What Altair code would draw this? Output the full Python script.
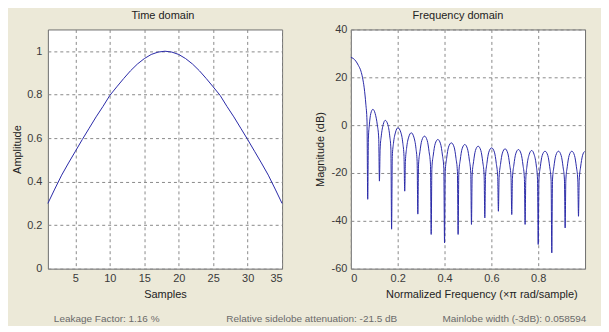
import altair as alt
import pandas as pd

FONT = "Liberation Sans"

# ---------------- Time domain (window samples) ----------------
samples = list(range(1, 36))
amplitude = [0.300, 0.366, 0.430, 0.486, 0.540, 0.594, 0.646, 0.698, 0.746,
             0.797, 0.836, 0.874, 0.910, 0.941, 0.966, 0.985, 0.996, 1.000,
             0.996, 0.985, 0.966, 0.941, 0.910, 0.874, 0.836, 0.797, 0.746,
             0.698, 0.646, 0.594, 0.540, 0.486, 0.430, 0.366, 0.300]
time_xticks = [5, 10, 15, 20, 25, 30, 35]
time_yticks = [0, 0.2, 0.4, 0.6, 0.8, 1]

# ---------------- Frequency domain (magnitude in dB) ----------------
freq = [
    0.000, 0.010, 0.021, 0.032, 0.043, 0.050, 0.057, 0.064, 0.069,   # main lobe
    0.072,
    0.075, 0.079, 0.085, 0.094, 0.104, 0.113, 0.119, 0.122,
    0.125, 0.130, 0.138, 0.147, 0.158, 0.166, 0.171, 0.174,
    0.177, 0.182, 0.191, 0.201, 0.213, 0.222, 0.227, 0.230,
    0.233, 0.238, 0.247, 0.258, 0.269, 0.278, 0.283, 0.286,
    0.289, 0.295, 0.303, 0.3145, 0.326, 0.334, 0.340, 0.343,
    0.346, 0.352, 0.360, 0.3715, 0.383, 0.391, 0.397, 0.400,
    0.403, 0.409, 0.417, 0.429, 0.441, 0.449, 0.455, 0.458,
    0.461, 0.467, 0.475, 0.4865, 0.498, 0.506, 0.512, 0.515,
    0.518, 0.524, 0.532, 0.5435, 0.555, 0.563, 0.569, 0.572,
    0.575, 0.581, 0.589, 0.601, 0.613, 0.621, 0.627, 0.630,
    0.633, 0.639, 0.647, 0.6585, 0.670, 0.678, 0.684, 0.687,
    0.690, 0.696, 0.704, 0.7155, 0.727, 0.735, 0.741, 0.744,
    0.747, 0.752, 0.761, 0.772, 0.783, 0.792, 0.797, 0.800,
    0.803, 0.809, 0.817, 0.829, 0.841, 0.849, 0.855, 0.858,
    0.861, 0.867, 0.875, 0.8865, 0.898, 0.906, 0.912, 0.915,
    0.918, 0.924, 0.932, 0.9435, 0.955, 0.963, 0.969, 0.972,
    0.975, 0.981, 0.989, 0.998,
]
magnitude = [
    28.3, 27.9, 26.8, 25.0, 22.6, 19.8, 15.6, 8.8, 1.7,
    -31.0,
    -5.4, 0.1, 4.8, 6.6, 4.8, 0.1, -5.4, -23.4,
    -10.0, -4.5, 0.2, 2.0, 0.2, -4.5, -10.0, -43.5,
    -13.1, -7.6, -2.9, -1.1, -2.9, -7.6, -13.1, -27.6,
    -15.2, -9.7, -5.0, -3.2, -5.0, -9.7, -15.2, -37.2,
    -16.6, -11.1, -6.4, -4.6, -6.4, -11.1, -16.6, -45.7,
    -18.0, -12.5, -7.8, -6.0, -7.8, -12.5, -18.0, -49.2,
    -19.4, -13.9, -9.2, -7.4, -9.2, -13.9, -19.4, -45.7,
    -20.1, -14.6, -9.9, -8.1, -9.9, -14.6, -20.1, -41.5,
    -20.8, -15.3, -10.6, -8.8, -10.6, -15.3, -20.8, -38.8,
    -21.5, -16.0, -11.3, -9.5, -11.3, -16.0, -21.5, -36.0,
    -21.9, -16.4, -11.7, -9.9, -11.7, -16.4, -21.9, -37.4,
    -22.2, -16.7, -12.0, -10.2, -12.0, -16.7, -22.2, -41.5,
    -22.6, -17.1, -12.4, -10.6, -12.4, -17.1, -22.6, -49.9,
    -22.9, -17.4, -12.7, -10.9, -12.7, -17.4, -22.9, -53.4,
    -22.9, -17.4, -12.7, -10.9, -12.7, -17.4, -22.9, -43.0,
    -22.9, -17.4, -12.7, -10.9, -12.7, -17.4, -22.9, -38.1,
    -23.0, -17.5, -12.8, -11.0,
]
freq_xticks = [0, 0.2, 0.4, 0.6, 0.8]
freq_yticks = [-60, -40, -20, 0, 20, 40]

footer_labels = ["Leakage Factor: 1.16 %",
                 "Relative sidelobe attenuation: -21.5 dB",
                 "Mainlobe width (-3dB): 0.058594"]

LINE = "#2a2aa8"
W, H = 235, 240

def ax(**kw):
    base = dict(grid=True, gridColor="#8a8a8a", gridDash=[3, 3], gridWidth=1,
                domain=False, ticks=False, labelFont=FONT, labelFontSize=11,
                labelColor="#3a3a3a", titleFont=FONT, titleFontSize=11,
                titleColor="#222222", titleFontWeight="normal",
                labelExpr="'' + datum.value")
    base.update(kw)
    return alt.Axis(**base)

time_df = pd.DataFrame({"Samples": samples, "Amplitude": amplitude})
freq_df = pd.DataFrame({"f": freq, "db": magnitude})

time_line = alt.Chart(time_df).mark_line(color=LINE, strokeWidth=1).encode(
    x=alt.X("Samples:Q", scale=alt.Scale(domain=[1, 35], nice=False, zero=False),
            axis=ax(values=time_xticks, title="Samples", labelPadding=4, titlePadding=5)),
    y=alt.Y("Amplitude:Q", scale=alt.Scale(domain=[0, 1.1], nice=False),
            axis=ax(values=time_yticks, title="Amplitude", labelPadding=6, titlePadding=4)),
)

# invisible diagonal that fixes the left / right / bottom bounds of the figure
bounds = alt.Chart(pd.DataFrame({"a": [0]})).mark_rule(opacity=0).encode(
    x=alt.value(-39), x2=alt.value(554), y=alt.value(0), y2=alt.value(296))

foot_x = [6, 179, 396]
footers = [
    alt.Chart(pd.DataFrame({"label": [lab]})).mark_text(
        font=FONT, fontSize=10, color="#6a6a6a", align="left", baseline="alphabetic"
    ).encode(x=alt.value(px), y=alt.value(294), text="label:N")
    for lab, px in zip(footer_labels, foot_x)
]

title_style = dict(font=FONT, fontSize=11, fontWeight="normal", color="#222222",
                   frame="group")

left = alt.layer(bounds, time_line, *footers).properties(
    width=W, height=H,
    title=alt.TitleParams("Time domain", dx=-2, offset=9, **title_style),
)

freq_line = alt.Chart(freq_df).mark_line(color=LINE, strokeWidth=1, interpolate="monotone").encode(
    x=alt.X("f:Q", scale=alt.Scale(domain=[0, 1], nice=False),
            axis=ax(values=freq_xticks, title="Normalized Frequency  (\u00d7\u03c0 rad/sample)",
                    labelPadding=4, titlePadding=5, titleX=131)),
    y=alt.Y("db:Q", scale=alt.Scale(domain=[-60, 40], nice=False, zero=False),
            axis=ax(values=freq_yticks, title="Magnitude (dB)", labelPadding=4, titlePadding=6)),
)

right = freq_line.properties(
    width=W, height=H,
    title=alt.TitleParams("Frequency domain", dx=-10, offset=3, **title_style),
)

chart = alt.hconcat(left, right, spacing=69, bounds="flush").properties(
    padding=0
).configure(background="#ECE9D8").configure_view(fill="white", stroke="#6e6e6e", strokeWidth=1)

chart.save("out.html", embed_options={"renderer": "svg", "actions": False})
